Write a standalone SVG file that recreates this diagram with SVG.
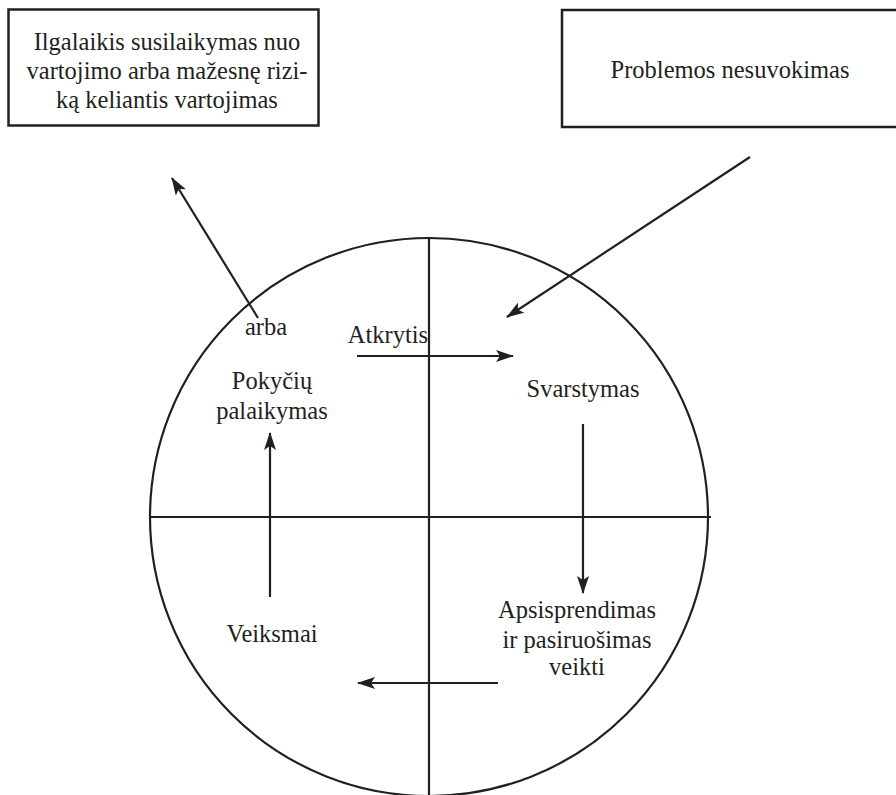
<svg xmlns="http://www.w3.org/2000/svg" width="896" height="795" viewBox="0 0 896 795">
<defs>
<style>
.ln{stroke:#231f20;stroke-width:2.2;fill:none}
.bx{stroke:#231f20;stroke-width:2.5;fill:#fff}
.t{font-family:"Liberation Serif","Times New Roman",serif;font-size:24.5px;fill:#231f20;text-anchor:middle}
</style>
<marker id="ah" viewBox="0 0 18 12" refX="17" refY="6" markerWidth="18" markerHeight="12" markerUnits="userSpaceOnUse" orient="auto">
<path d="M0,0 L18,6 L0,12 L4,6 Z" fill="#231f20"/>
</marker>
</defs>
<rect width="896" height="795" fill="#fff"/>
<g id="node-abstinence">
<rect class="bx" x="8.5" y="9.5" width="310" height="116"/>
<text class="t" x="167" y="50">Ilgalaikis susilaikymas nuo</text>
<text class="t" x="167" y="79">vartojimo arba mažesnę rizi-</text>
<text class="t" x="167" y="108">ką keliantis vartojimas</text>
</g>
<g id="node-precontemplation">
<rect class="bx" x="562" y="10" width="340" height="117"/>
<text class="t" x="730" y="78">Problemos nesuvokimas</text>
</g>
<g id="cycle">
<circle class="ln" cx="429" cy="517" r="279"/>
<line class="ln" x1="429" y1="238" x2="429" y2="795"/>
<line class="ln" x1="150" y1="517" x2="711" y2="517"/>
</g>
<g id="node-maintenance">
<text class="t" x="272" y="389">Pokyčių</text>
<text class="t" x="272" y="419">palaikymas</text>
</g>
<g id="node-relapse"><text class="t" x="388" y="343">Atkrytis</text></g>
<g id="node-contemplation"><text class="t" x="583" y="397">Svarstymas</text></g>
<g id="node-preparation">
<text class="t" x="577" y="618">Apsisprendimas</text>
<text class="t" x="577" y="648">ir pasiruošimas</text>
<text class="t" x="577" y="675">veikti</text>
</g>
<g id="node-action"><text class="t" x="272" y="642">Veiksmai</text></g>
<g id="node-or"><text class="t" x="266" y="335">arba</text></g>
<g id="connectors">
<line class="ln" x1="258" y1="318" x2="172" y2="178" marker-end="url(#ah)"/>
<line class="ln" x1="750" y1="157" x2="507" y2="317" marker-end="url(#ah)"/>
<line class="ln" x1="357" y1="356" x2="513" y2="356" marker-end="url(#ah)"/>
<line class="ln" x1="583" y1="424" x2="583" y2="593" marker-end="url(#ah)"/>
<line class="ln" x1="270" y1="597" x2="270" y2="433" marker-end="url(#ah)"/>
<line class="ln" x1="498" y1="683" x2="358" y2="683" marker-end="url(#ah)"/>
</g>
</svg>
